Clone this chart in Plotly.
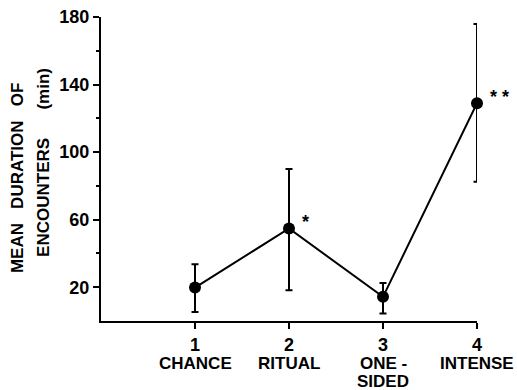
import plotly.graph_objects as go

categories = [1, 2, 3, 4]
category_names = ["CHANCE", "RITUAL", "ONE\u00a0-<br>SIDED", "INTENSE"]
mean_duration = [19.8, 54.8, 14.3, 128.9]
err_upper = [33.6, 90.0, 22.5, 175.9]
err_lower = [5.4, 18.2, 4.4, 82.4]
significance = ["", "*", "", "*\u00a0*"]
y_tick_vals = [20, 60, 100, 140, 180]

err_plus = [u - m for u, m in zip(err_upper, mean_duration)]
err_minus = [m - l for m, l in zip(mean_duration, err_lower)]

BOLD = dict(family="Liberation Sans, Arial, sans-serif", color="black", weight="bold")

fig = go.Figure()
fig.add_trace(go.Scatter(
    x=categories, y=mean_duration, mode="lines+markers",
    line=dict(color="black", width=2),
    marker=dict(color="black", size=12),
    error_y=dict(type="data", symmetric=False, array=err_plus, arrayminus=err_minus,
                 color="black", thickness=2, width=3.5),
    cliponaxis=False, showlegend=False,
))

annotations = []
for c, name in zip(categories, category_names):
    for i, line in enumerate(name.split("<br>")):
        annotations.append(dict(x=c, y=0, xref="x", yref="paper", text=line, showarrow=False,
                                xanchor="center", yanchor="middle", yshift=-42 - 18 * i,
                                borderpad=0, font=dict(size=17, **BOLD)))
for c, m, s in zip(categories, mean_duration, significance):
    if s:
        annotations.append(dict(x=c, y=m, xref="x", yref="y", text=s, showarrow=False,
                                xanchor="left", yanchor="middle", xshift=11, yshift=6,
                                font=dict(size=18, **BOLD)))
annotations.append(dict(x=0, y=0.47, xref="paper", yref="paper",
                        text="MEAN\u00a0\u00a0\u00a0DURATION\u00a0\u00a0\u00a0OF", textangle=-90,
                        showarrow=False, xanchor="center", yanchor="middle", xshift=-84,
                        font=dict(size=17, **BOLD)))
annotations.append(dict(x=0, y=0.52, xref="paper", yref="paper",
                        text="ENCOUNTERS\u00a0\u00a0\u00a0\u00a0\u00a0\u00a0(min)", textangle=-90,
                        showarrow=False, xanchor="center", yanchor="middle", xshift=-57,
                        font=dict(size=17, **BOLD)))

fig.update_layout(
    width=517, height=390,
    margin=dict(l=101, r=40, t=17, b=69, autoexpand=False),
    plot_bgcolor="white", paper_bgcolor="white",
    annotations=annotations,
    xaxis=dict(range=[0, 4], tickvals=categories, ticks="outside", ticklen=6, tickwidth=2,
               tickcolor="black", showline=True, linecolor="black", linewidth=2,
               showgrid=False, zeroline=False, automargin=False,
               tickfont=dict(size=18, **BOLD)),
    yaxis=dict(range=[0, 180], tickvals=y_tick_vals, ticks="outside", ticklen=6, tickwidth=2,
               tickcolor="black", showline=True, linecolor="black", linewidth=2,
               showgrid=False, zeroline=False, automargin=False,
               tickfont=dict(size=18, **BOLD),
               minor=dict(tickvals=[40, 80, 120, 160], ticks="outside", ticklen=3,
                          tickwidth=1.5, tickcolor="black")),
)

fig.write_html("out.html", config={"displayModeBar": False},
               post_script="document.body.style.margin='0px';")
